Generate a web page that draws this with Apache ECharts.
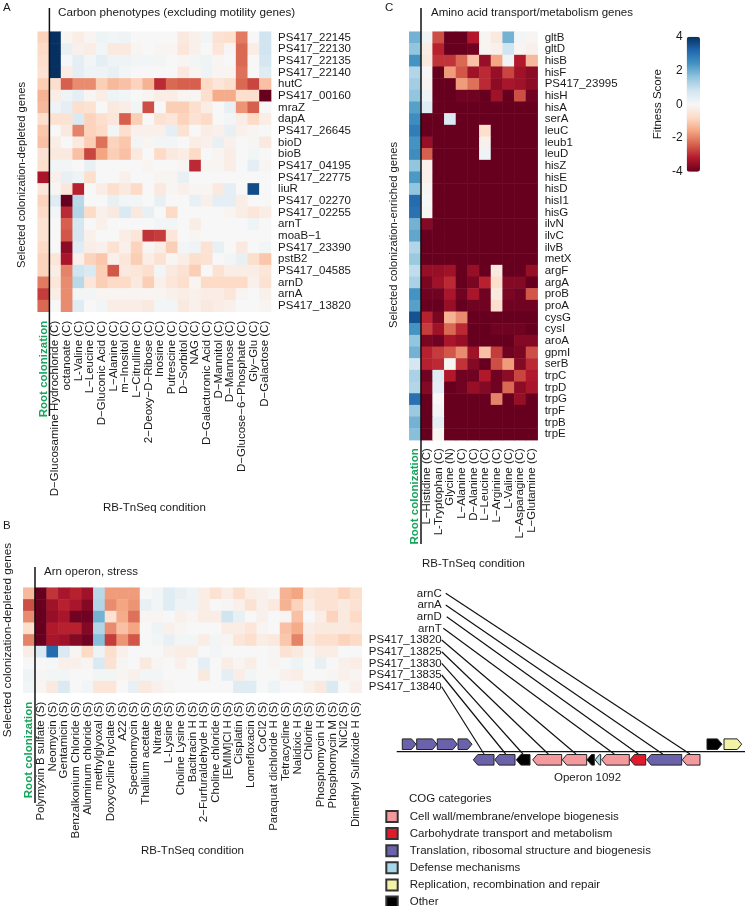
<!DOCTYPE html>
<html>
<head>
<meta charset="utf-8">
<script src="https://cdn.jsdelivr.net/npm/echarts@6/dist/echarts.min.js"></script>
<style>
  html, body { margin: 0; padding: 0; background: #fff; }
  #chart { width: 747px; height: 906px; }
</style>
</head>
<body>
<div id="chart"></div>
<script>
// panel A
const carbonConditions = ['Root colonization', 'D−Glucosamine Hydrochloride (C)', 'octanoate (C)', 'L-Valine (C)', 'L−Leucine (C)', 'D−Gluconic Acid (C)', 'L−Alanine (C)', 'm−Inositol (C)', 'L−Citrulline (C)', '2−Deoxy−D−Ribose (C)', 'Inosine (C)', 'Putrescine (C)', 'D−Sorbitol (C)', 'NAG (C)', 'D−Galacturonic Acid (C)', 'D−Mannitol (C)', 'D−Mannose (C)', 'D−Glucose−6−Phosphate (C)', 'Gly−Glu (C)', 'D−Galactose (C)'];
const carbonGenes = ['PS417_22145', 'PS417_22130', 'PS417_22135', 'PS417_22140', 'hutC', 'PS417_00160', 'mraZ', 'dapA', 'PS417_26645', 'bioD', 'bioB', 'PS417_04195', 'PS417_22775', 'liuR', 'PS417_02270', 'PS417_02255', 'arnT', 'moaB−1', 'PS417_23390', 'pstB2', 'PS417_04585', 'arnD', 'arnA', 'PS417_13820'];
const carbonValues = [
  [-0.9, 4, -0.1, -0.3, -0.1, 0.2, 0.1, 0.2, 0, 0, 0, 0, -0.4, -0.2, 0.1, -0.6, -0.7, -2.1, 0, 0.8],
  [-0.8, 4, 0.3, -0.2, -0.3, 0.1, -0.4, -0.4, -0.1, 0, -0.1, -0.1, -0.5, -0.2, 0, -0.5, -0.05, -2.3, -0.3, 0.8],
  [-0.7, 4, 0.05, 0.4, 0.1, 0.4, 0.2, 0.2, 0.1, 0.1, 0.1, 0, -0.1, 0.1, 0.2, -0.1, 0, -2.3, 0, 0.7],
  [-0.6, 4, -0.3, 0.4, 0.2, 0.2, 0.3, 0.1, 0, 0, 0, 0, -0.4, -0.1, 0.2, -0.1, -0.1, -2.2, 0, 0.5],
  [-1, -0.7, -2.4, -1.9, -1.9, -1, -1.3, -1.2, -0.9, -1.4, -3, -2.3, -2.4, -2.4, -0.8, -0.5, -0.7, -2.3, -2.7, -1.2],
  [-1.4, -0.3, 0.2, 0.4, -0.1, -0.3, 0.2, 0.1, 0, -0.1, -0.3, -0.3, -0.1, -0.1, -0.7, -1.5, -1.5, -0.7, -0.7, -4],
  [-1.3, 0.2, 0.4, -0.7, -0.6, 0, -0.4, -0.3, 0.1, -2.6, 0, -1, -1, -0.7, -0.3, 0, 0.3, -1.8, -2.4, 0],
  [-0.7, -0.6, -0.6, 0.6, -0.9, -0.7, -0.5, -2.4, -1, 0, -0.6, -0.5, -0.9, -0.6, -0.8, 0, 0.1, -0.3, -0.8, -0.3],
  [-1.1, 0, -0.4, -2, -0.9, -0.8, 0.1, -0.7, -0.2, -0.2, -0.2, 0.4, -0.6, 0, -0.3, -0.2, 0.3, -0.2, -0.1, 0],
  [-1.2, -0.3, 0, -0.4, -1, -2.2, -0.9, -1.1, 0.1, -0.1, 0.1, 0.1, 0, -0.3, -0.2, 0.3, -0.2, 0, -0.05, -0.4],
  [-0.6, -0.4, -0.4, -1.2, -2.7, -1.6, -1, -1.2, -0.4, 0, -0.8, -0.4, -0.3, -0.8, 0, -0.1, -0.3, 0, 0.1, 0],
  [-0.7, 0.1, 0.1, 0, 0.3, 0, 0, 0, 0, -0.1, 0, 0, -0.1, -3, -0.1, -0.1, -0.3, 0, 0.4, -0.1],
  [-3.3, -0.2, 0.3, 0.2, -0.7, 0, 0, -0.2, 0, 0, -0.1, -0.1, 0.3, 0, 0, 0, 0, 0, 0, 0],
  [-0.5, -0.05, -0.5, -3.1, 0, -0.3, -0.7, -0.4, -0.8, 0, -0.4, -0.1, -0.2, -0.1, -0.1, -0.4, 0.4, 0, 3.6, 0],
  [-0.9, 0.5, -4, 1.1, 0, 0, 0.3, 0.1, 0.1, 0, 0.3, 0, 0, 0.3, -0.2, 0.4, 0.4, -0.3, 0, 0],
  [-0.8, 0.1, -3, 1.2, -0.8, -0.2, -0.4, 0.6, -0.4, 0.3, 0, -0.8, 0, 0, 0, 0, -0.1, -0.3, -0.5, -0.3],
  [-0.6, 0, -2.4, 0.7, 0, -0.2, 0, 0, 0, 0, 0.1, 0.1, 0, -0.3, 0, 0, 0, 0, 0.2, 0],
  [-0.6, 0, -2.5, 0.7, -0.2, 0, 0, -0.3, -0.5, -2.9, -2.8, -0.5, 0, -0.1, 0, 0, 0, 0, 0, 0],
  [-0.8, 0, -3.6, 0.5, -0.3, -0.2, -0.6, -0.2, -0.9, -0.1, -0.3, -1, 0.1, 0.2, -0.6, 0.3, 0, -0.4, 0, 0.1],
  [-0.9, -0.5, -3.3, -0.2, -0.9, -1.1, -0.2, -0.5, -1, -0.3, -0.6, -0.1, -0.3, -0.7, -0.6, 0, 0.1, 0.3, -0.7, -1.1],
  [-0.9, -0.3, -2, 0.8, 0.6, -1, -2.5, -0.4, -0.5, -0.7, 0.1, -0.4, -0.6, -1, 0, -0.6, -0.3, -0.3, -0.3, -0.5],
  [-2.1, -0.5, -1.9, 1.1, -0.5, -1, -0.8, -0.8, -0.4, -1, -0.2, -0.5, -0.7, -0.1, -0.8, -0.8, -0.8, -0.8, -0.2, -0.6],
  [-2.8, -0.3, -1.9, 0.1, 0.1, -0.1, -0.1, -0.1, -0.1, -0.1, -0.1, -0.2, -0.3, -0.2, -0.3, -0.3, -0.5, -0.1, 0, -0.2],
  [-2.3, 0, -1.9, 0.5, 0, 0.1, -0.3, -0.3, -0.3, -0.4, 0.1, 0.1, -0.4, -0.2, -0.4, -0.3, -0.2, 0, 0, -0.1]
];

// panel C
const aminoConditions = ['Root colonization', 'L−Histidine (C)', 'L-Tryptophan (C)', 'Glycine (N)', 'L−Alanine (C)', 'D−Alanine (C)', 'L−Leucine (C)', 'L−Arginine (C)', 'L-Valine (C)', 'L−Asparagine (C)', 'L−Glutamine (C)'];
const aminoGenes = ['gltB', 'gltD', 'hisB', 'hisF', 'PS417_23995', 'hisH', 'hisA', 'serA', 'leuC', 'leub1', 'leuD', 'hisZ', 'hisE', 'hisD', 'hisI1', 'hisG', 'ilvN', 'ilvC', 'ilvB', 'metX', 'argF', 'argA', 'proB', 'proA', 'cysG', 'cysI', 'aroA', 'gpmI', 'serB', 'trpC', 'trpD', 'trpG', 'trpF', 'trpB', 'trpE'];
const aminoValues = [
  [1.9, 0.15, -2.6, -4, -4, -3.2, -0.1, -0.4, 1.9, 0.1, -0.1],
  [1.6, -0.3, -3.1, -4, -4, -3.9, -0.1, -0.2, 0.8, -0.1, -0.2],
  [2.4, -0.4, -2.9, -2.9, -2.3, -1.2, -3.5, -1.6, 0.2, -3.2, -1.3],
  [1.2, 0, -4, -1.7, -2.5, -3.4, -3, -3.5, -2.7, -3.4, -3.6],
  [1.4, -0.1, -4, -4, -1.7, -2.2, -3, -3.6, -3.3, -3.4, -3.6],
  [1.6, 0.2, -4, -4, -3.9, -3.9, -4, -3.4, -4, -2.6, -3.9],
  [2.2, 0.5, -4, -4, -4, -4, -4, -4, -4, -4, -4],
  [2.5, -4, -4, 0.6, -4, -4, -4, -4, -4, -4, -4],
  [2.8, -4, -4, -4, -4, -4, -0.7, -4, -4, -4, -4],
  [2.4, -3.5, -4, -4, -4, -4, -0.2, -4, -4, -4, -4],
  [2.5, -2.4, -4, -4, -4, -4, 0.2, -4, -4, -4, -4],
  [1.6, -0.2, -4, -4, -4, -4, -4, -4, -4, -4, -4],
  [2.3, -0.2, -4, -4, -4, -4, -4, -4, -4, -4, -4],
  [1.6, -0.05, -4, -4, -4, -4, -4, -4, -4, -4, -4],
  [3.1, 0, -4, -4, -4, -4, -4, -4, -4, -4, -4],
  [3, -0.05, -4, -4, -4, -4, -4, -4, -4, -4, -4],
  [1.9, -3.7, -4, -4, -4, -4, -4, -4, -4, -4, -4],
  [2.1, -4, -4, -4, -4, -4, -4, -4, -4, -4, -4],
  [1.2, -4, -4, -4, -4, -4, -4, -4, -4, -4, -4],
  [1.5, -4, -4, -4, -4, -4, -4, -4, -4, -4, -4],
  [1, -3.5, -3.5, -3.4, -4, -3.5, -4, -0.4, -4, -4, -3.5],
  [1.3, -3.8, -3.4, -3, -4, -3.8, -3.1, -0.7, -3.7, -3.7, -4],
  [2.4, -3.9, -3.9, -3.3, -3.9, -3.3, -3.9, -0.4, -3.8, -3.9, -2.5],
  [2.2, -4, -4, -3.5, -4, -3.9, -3.9, -0.7, -3.9, -3.9, -3.9],
  [3.5, -3.1, -3.8, -1.4, -1.9, -4, -4, -4, -4, -4, -4],
  [2.4, -2.8, -3.4, -2.3, -3, -4, -4, -3.9, -3.9, -3.9, -4],
  [1.6, -3.8, -3.9, -3.3, -3.5, -4, -4, -4, -4, -3.7, -3.7],
  [1.9, -3.1, -2.8, -2.5, -1.9, -3.4, -1.2, -2.8, -3.9, -3.8, -2.6],
  [0.7, -3.1, -3, -0.05, -2.9, -3.7, -4, -2.6, -1.7, -3.7, -3],
  [1.3, -3.9, 0.5, -3.2, -3.9, -3.9, -3.2, -3.9, -3.6, -2.7, -3.2],
  [1.2, -3.7, 0.4, -4, -3.9, -3.5, -3.7, -3.9, -2.3, -3.6, -3.3],
  [3, -4, 0, -4, -4, -4, -4, -2, -4, -3.5, -4],
  [1.5, -4, 0.1, -4, -4, -4, -4, -4, -4, -4, -4],
  [1.9, -4, 0.4, -4, -4, -4, -4, -4, -4, -4, -4],
  [1.7, -4, -0.1, -4, -4, -4, -4, -4, -4, -4, -4]
];

// panel B
const stressConditions = ['Root colonization', 'Polymyxin B sulfate (S)', 'Neomycin (S)', 'Gentamicin (S)', 'Benzalkonium Chloride (S)', 'Aluminum chloride (S)', 'methylglyoxal (S)', 'Doxycycline hyclate (S)', 'A22 (S)', 'Spectinomycin (S)', 'Thallium acetate (S)', 'Nitrate (S)', 'L-Lysine (S)', 'Choline Lysine (S)', 'Bacitracin H (S)', '2−Furfuraldehyde H (S)', 'Choline chloride (S)', '[EMIM]Cl H (S)', 'Cisplatin (S)', 'Lomefloxacin (S)', 'CoCl2 (S)', 'Paraquat dichloride H (S)', 'Tetracycline (S)', 'Nalidixic H (S)', 'Chlorite (S)', 'Phosphomycin H (S)', 'Phosphomycin M (S)', 'NiCl2 (S)', 'Dimethyl Sulfoxide H (S)'];
const stressGenes = ['arnC', 'arnA', 'arnD', 'arnT', 'PS417_13820', 'PS417_13825', 'PS417_13830', 'PS417_13835', 'PS417_13840'];
const stressValues = [
  [-1.3, -4, -2.9, -3.3, -3.1, -3.4, 1.1, -1.7, -1.7, -1.7, 0, 0.1, 0.5, 0.3, 0.2, -0.3, -0.6, -0.3, -0.7, -0.3, -0.2, -0.1, -1.4, -1.6, -0.5, -0.6, -0.6, -0.9, -0.7],
  [-2.6, -4, -3.4, -3.1, -3.3, -3.7, 1.2, -1.9, -1.6, -1.8, 0.3, 0.1, 0.5, 0.2, 0.2, -0.3, 0, -0.05, -0.2, -0.6, -0.2, -0.4, -1.4, -0.9, -0.3, -0.6, -0.6, -0.4, -0.6],
  [-1.9, -4, -3.5, -3.3, -3.9, -3.9, 1.9, -0.6, -1.5, -2.2, -0.1, -0.1, 0, -0.2, -0.1, -0.3, -0.3, 0.8, 0.3, 0, -0.2, 0, -0.1, -1.2, 0, -0.3, -0.9, -0.4, -0.8],
  [-0.7, -4, -3.2, -3.1, -3.1, -3.7, 1.2, -1.9, -1.2, -1.6, 0, 0.2, -0.2, -0.1, 0, 0, 0, -0.3, -0.3, -0.5, -0.1, 0, -1.2, -1.5, -0.3, -0.4, -0.4, -0.4, -0.5],
  [-2, -4, -3.3, -3.4, -3.7, -3.9, 1.7, -2.8, -1.8, -2.5, 0, 0.1, 0.3, 0.1, 0.1, -0.3, 0.1, -0.1, -0.5, -0.7, -0.3, -0.4, -1.1, -2, -0.4, -0.7, -0.7, -0.9, -0.8],
  [-0.3, 0.6, 3.1, 0.6, -0.1, -0.8, 0.2, -0.7, -0.2, 0, 0, 0, -0.2, -0.3, -0.3, 0, 0.1, 0, 0, 0, 0, -0.05, -0.6, -0.4, -0.1, -0.3, -0.3, 0, 0],
  [0, 0, 0.05, -0.2, -0.2, -0.1, 0.6, -0.6, -0.05, 0, -0.4, -0.1, 0, -0.2, 0, 0.4, 0, -0.3, -0.1, -0.3, 0, -0.1, 0.05, 0.2, 0, 0.3, 0, -0.2, -0.3],
  [0.2, -0.05, 0.1, 0.1, 0, 0, 0.1, 0.1, -0.1, -0.2, 0.1, 0.1, 0, 0, 0, -0.4, 0, 0.4, -0.3, 0.1, 0, 0, -0.2, -0.3, 0, 0, -0.05, -0.2, -0.1],
  [0.1, -0.1, -0.4, 0.6, 0, 0.1, -0.5, -0.5, 0, 0.3, -0.4, -0.2, -0.05, 0, 0, 0, 0, 0, 0.5, 0.5, 0, 0.2, 0, 0, -0.2, -0.4, 0.6, 0, -0.2]
];

// operon map, map units along the chromosome
const cogCategories = ['Cell wall/membrane/envelope biogenesis', 'Carbohydrate transport and metabolism', 'Translation, ribosomal structure and biogenesis', 'Defense mechanisms', 'Replication, recombination and repair', 'Other'];
const cogColors = ['#f49a9f', '#e21b2c', '#6a62ab', '#a6d8e8', '#f3f3a8', '#000000'];
const geneStart = [402.3, 416.7, 437.3, 458, 707, 724, 473.3, 494.7, 516.3, 532.7, 562.3, 587, 595, 601.7, 630, 646.7, 682.3];
const geneEnd = [416, 437, 457.3, 472, 722, 741.7, 494, 515, 530, 561.7, 586.7, 594.3, 600.7, 629.3, 645.7, 681.7, 700];
const geneStrand = [1, 1, 1, 1, 1, 1, -1, -1, -1, -1, -1, -1, -1, -1, -1, -1, -1];
const geneCog = [2, 2, 2, 2, 5, 4, 2, 2, 5, 0, 0, 5, 3, 0, 1, 2, 0];
const chromosome = [396.7, 745];
const linkFromX = [445.7, 445.7, 446.7, 443.3, 441.7, 441.7, 441.7, 441.7, 441.7];
const linkFromY = [593.3, 605, 616.7, 628.3, 640, 651.7, 663.3, 675, 686.7];
const linkToX = [690, 662.7, 638.3, 614.3, 576, 548.3, 523, 505.7, 484];

const fitnessColors = ['#67001f', '#b2182b', '#d6604d', '#f4a582', '#fddbc7', '#f7f7f7', '#d1e5f0', '#92c5de', '#4393c3', '#2166ac', '#053061'];

const FONT = '"Liberation Sans", Arial, sans-serif';
const FS = 11.5;
const INK = '#1a1a1a';
const CELL = 11.67;

const myChart = echarts.init(document.getElementById('chart'));

function cells(values) {
  const out = [];
  values.forEach((row, y) => row.forEach((v, x) => out.push([x, y, v])));
  return out;
}

function panelGrid(left, top, cols, rows) {
  return { left: left, top: top, width: cols * CELL, height: rows * CELL };
}

function conditionAxis(gridIndex, categories, margin, nameGap) {
  return {
    type: 'category',
    gridIndex: gridIndex,
    data: categories,
    axisLine: { show: false },
    axisTick: { show: false },
    splitLine: { show: false },
    axisLabel: {
      rotate: 90,
      interval: 0,
      margin: margin,
      color: INK,
      fontSize: FS,
      fontFamily: FONT,
      formatter: (value, i) => (i === 0 ? '{root|' + value + '}' : value),
      rich: { root: { color: '#17a45c', fontWeight: 'bold', fontSize: FS, fontFamily: FONT } },
    },
    name: 'RB-TnSeq condition',
    nameLocation: 'middle',
    nameGap: nameGap,
    nameMoveOverlap: false,
    nameTextStyle: { color: INK, fontSize: FS, fontFamily: FONT },
  };
}

function geneAxis(gridIndex, categories, margin, alignRight) {
  return {
    type: 'category',
    gridIndex: gridIndex,
    position: 'right',
    inverse: true,
    data: categories,
    axisLine: { show: false },
    axisTick: { show: false },
    splitLine: { show: false },
    axisLabel: {
      interval: 0,
      margin: margin,
      align: alignRight ? 'right' : 'left',
      color: INK,
      fontSize: FS,
      fontFamily: FONT,
    },
  };
}

function heatSeries(index, values) {
  return {
    type: 'heatmap',
    xAxisIndex: index,
    yAxisIndex: index,
    data: cells(values),
    emphasis: { disabled: true },
    itemStyle: { borderWidth: 0 },
  };
}

function flatAxis(gridIndex, min, max, inverse) {
  return { type: 'value', gridIndex: gridIndex, min: min, max: max, inverse: inverse, show: false };
}

function renderGene(params, api) {
  const start = api.value(0);
  const end = api.value(1);
  const strand = api.value(2);
  const mid = strand > 0 ? 744.2 : 759.8;
  const half = 5.3;
  const head = 4.5;
  const pts = strand > 0
    ? [[start, mid - half], [end - head, mid - half], [end, mid], [end - head, mid + half], [start, mid + half]]
    : [[end, mid - half], [start + head, mid - half], [start, mid], [start + head, mid + half], [end, mid + half]];
  return {
    type: 'polygon',
    shape: { points: pts.map((p) => api.coord(p)) },
    style: { fill: api.visual('color'), stroke: '#222', lineWidth: 1 },
  };
}

function renderLink(params, api) {
  const a = api.coord([api.value(0), api.value(1)]);
  const b = api.coord([api.value(2), api.value(3)]);
  return {
    type: 'line',
    shape: { x1: a[0], y1: a[1], x2: b[0], y2: b[1] },
    style: { stroke: '#111', lineWidth: 1.2 },
  };
}

function renderChromosome(params, api) {
  const a = api.coord([api.value(0), 751.7]);
  const b = api.coord([api.value(1), 751.7]);
  return {
    type: 'line',
    shape: { x1: a[0], y1: a[1], x2: b[0], y2: b[1] },
    style: { stroke: '#111', lineWidth: 1.2 },
  };
}

const cogSeries = cogCategories.map((name, c) => {
  const rows = [];
  geneStart.forEach((s, i) => {
    if (geneCog[i] === c) rows.push([s, geneEnd[i], geneStrand[i]]);
  });
  return {
    name: name,
    type: 'custom',
    coordinateSystem: 'cartesian2d',
    xAxisIndex: 3,
    yAxisIndex: 3,
    clip: false,
    renderItem: renderGene,
    itemStyle: { color: cogColors[c], borderColor: '#333', borderWidth: 1 },
    data: rows,
  };
});

function label(text, left, top, size) {
  return {
    text: text,
    left: left,
    top: top,
    padding: 0,
    textStyle: { color: INK, fontSize: size || FS, fontWeight: 'normal', fontFamily: FONT },
  };
}

function sideName(text, x, y, size) {
  return {
    type: 'text',
    x: x,
    y: y,
    rotation: Math.PI / 2,
    style: { text: text, fill: INK, fontSize: size, fontFamily: FONT, align: 'center', verticalAlign: 'middle' },
  };
}

function rule(x, y1, y2) {
  return {
    type: 'line',
    z: 10,
    shape: { x1: x, y1: y1, x2: x, y2: y2 },
    style: { stroke: '#111', lineWidth: 1.5 },
  };
}

const option = {
  backgroundColor: '#fff',
  animation: false,
  title: [
    label('A', 3, 2),
    label('B', 3, 520),
    label('C', 385, 2),
    label('Carbon phenotypes (excluding motility genes)', 58, 7, 11.7),
    label('Amino acid transport/metabolism genes', 431, 7),
    label('Arn operon, stress', 44, 566),
    label('Operon 1092', 554, 772),
    label('COG categories', 409, 793),
  ],
  grid: [
    panelGrid(37.7, 31.7, 20, 24),
    panelGrid(409.3, 31.7, 11, 35),
    panelGrid(23.3, 587.7, 29, 9),
    { left: 360, top: 570, width: 387, height: 210 },
    { left: 686.7, top: 36.7, width: 13.3, height: 135 },
  ],
  xAxis: [
    conditionAxis(0, carbonConditions, 9, 190),
    conditionAxis(1, aminoConditions, 8, 118),
    conditionAxis(2, stressConditions, 9, 152),
    flatAxis(3, 360, 747, false),
    { type: 'value', gridIndex: 4, show: false, min: 0, max: 1 },
  ],
  yAxis: [
    geneAxis(0, carbonGenes, 7, false),
    geneAxis(1, aminoGenes, 7, false),
    geneAxis(2, stressGenes, 80, true),
    flatAxis(3, 570, 780, true),
    {
      type: 'value',
      gridIndex: 4,
      min: -4,
      max: 4,
      interval: 2,
      axisLine: { show: false },
      axisTick: { show: false },
      splitLine: { show: false },
      axisLabel: { margin: 4, color: INK, fontSize: FS + 0.5, fontFamily: FONT },
      name: 'Fitness Score',
      nameLocation: 'middle',
      nameGap: 23,
      nameMoveOverlap: false,
      nameTextStyle: { color: INK, fontSize: FS, fontFamily: FONT },
    },
  ],
  visualMap: {
    type: 'continuous',
    seriesIndex: [0, 1, 2],
    min: -4,
    max: 4,
    left: 686.7,
    top: 36.7,
    padding: 0,
    itemWidth: 13.3,
    itemHeight: 135,
    calculable: false,
    hoverLink: false,
    text: ['', ''],
    inRange: { color: fitnessColors },
  },
  legend: {
    data: cogCategories,
    orient: 'vertical',
    left: 385.3,
    top: 810,
    height: 200,
    padding: 0,
    itemWidth: 11.4,
    itemHeight: 11,
    itemGap: 4.1,
    icon: 'rect',
    selectedMode: false,
    textStyle: { color: INK, fontSize: FS, fontFamily: FONT, padding: [0, 0, 0, 7] },
  },
  graphic: [
    sideName('Selected colonization-depleted genes', 22, 175, 11.2),
    sideName('Selected colonization-enriched genes', 394, 235, 11.2),
    sideName('Selected colonization-depleted genes', 8, 640, 11.7),
    rule(49.4, 8, 416),
    rule(421, 8, 544),
    rule(35, 567, 803),
  ],
  series: [
    heatSeries(0, carbonValues),
    heatSeries(1, aminoValues),
    heatSeries(2, stressValues),
    {
      type: 'custom',
      coordinateSystem: 'cartesian2d',
      xAxisIndex: 3,
      yAxisIndex: 3,
      clip: false,
      renderItem: renderChromosome,
      data: [chromosome],
    },
    {
      type: 'custom',
      coordinateSystem: 'cartesian2d',
      xAxisIndex: 3,
      yAxisIndex: 3,
      clip: false,
      renderItem: renderLink,
      data: linkFromX.map((x, i) => [x, linkFromY[i], linkToX[i], 754]),
    },
    ...cogSeries,
  ],
};

myChart.setOption(option);
</script>
</body>
</html>
